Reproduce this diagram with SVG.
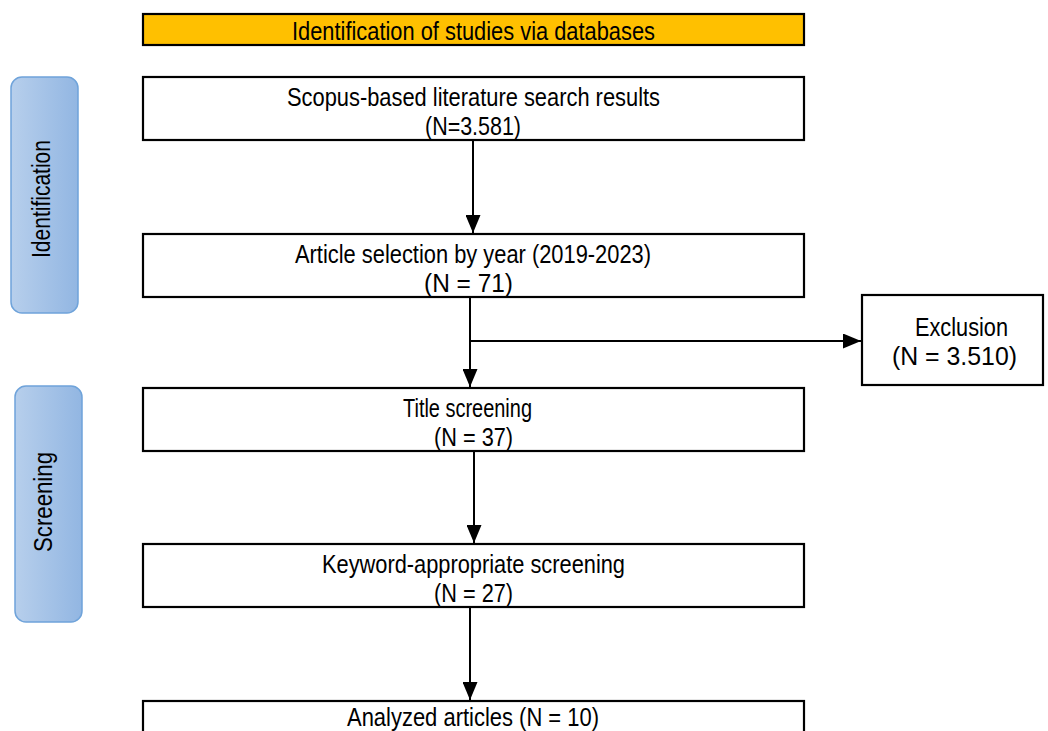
<svg xmlns="http://www.w3.org/2000/svg" width="1048" height="731" viewBox="0 0 1048 731">
<style>
.box{fill:#fff;stroke:#000;stroke-width:2.2}
.hdr{fill:#FFC000;stroke:#000;stroke-width:2.2}
.side{stroke:#6FA3DA;stroke-width:1.5;fill:url(#g)}
text{font-family:"Liberation Sans",Arial,sans-serif;font-size:26px;fill:#000;text-anchor:middle}
.con{stroke:#000;stroke-width:2;fill:none}
</style>
<defs>
<linearGradient id="g" x1="0" y1="0" x2="1" y2="0">
<stop offset="0" stop-color="#B7CFEC"/>
<stop offset="1" stop-color="#92B6E2"/>
</linearGradient>
<marker id="ah" markerWidth="18" markerHeight="15" refX="18" refY="7.5" viewBox="0 0 18 15" markerUnits="userSpaceOnUse" orient="auto">
<path d="M0,0 L18,7.5 L0,15 Z" fill="#000"/>
</marker>
</defs>
<g id="side-identification">
<rect class="side" x="11" y="77" width="67" height="236" rx="11"/>
<text transform="translate(50,199) rotate(-90)" textLength="118" lengthAdjust="spacingAndGlyphs">Identification</text>
</g>
<g id="side-screening">
<rect class="side" x="15" y="386" width="67" height="236" rx="11"/>
<text transform="translate(52,502) rotate(-90)" textLength="100" lengthAdjust="spacingAndGlyphs">Screening</text>
</g>
<g id="header">
<rect class="hdr" x="143" y="14" width="661" height="31"/>
<text x="473.5" y="40" textLength="363" lengthAdjust="spacingAndGlyphs">Identification of studies via databases</text>
</g>
<g id="n1">
<rect class="box" x="143" y="77" width="661" height="63"/>
<text x="473.5" y="106" textLength="373" lengthAdjust="spacingAndGlyphs">Scopus-based literature search results</text>
<text x="473" y="135" textLength="96" lengthAdjust="spacingAndGlyphs">(N=3.581)</text>
</g>
<g id="n2">
<rect class="box" x="143" y="234" width="661" height="63"/>
<text x="473" y="263" textLength="356" lengthAdjust="spacingAndGlyphs">Article selection by year (2019-2023)</text>
<text x="468.5" y="292" textLength="89" lengthAdjust="spacingAndGlyphs">(N = 71)</text>
</g>
<g id="exclusion">
<rect class="box" x="862" y="295" width="181" height="90"/>
<text x="961.5" y="336" textLength="93" lengthAdjust="spacingAndGlyphs">Exclusion</text>
<text x="954.5" y="365" textLength="125" lengthAdjust="spacingAndGlyphs">(N = 3.510)</text>
</g>
<g id="n3">
<rect class="box" x="143" y="388" width="661" height="63"/>
<text x="467.5" y="417" textLength="129" lengthAdjust="spacingAndGlyphs">Title screening</text>
<text x="473.5" y="446" textLength="79" lengthAdjust="spacingAndGlyphs">(N = 37)</text>
</g>
<g id="n4">
<rect class="box" x="143" y="544" width="661" height="63"/>
<text x="473.5" y="573" textLength="303" lengthAdjust="spacingAndGlyphs">Keyword-appropriate screening</text>
<text x="473.5" y="602" textLength="79" lengthAdjust="spacingAndGlyphs">(N = 27)</text>
</g>
<g id="n5">
<rect class="box" x="143" y="701" width="661" height="40"/>
<text x="473" y="726" textLength="252" lengthAdjust="spacingAndGlyphs">Analyzed articles (N = 10)</text>
</g>
<g id="connectors">
<line class="con" x1="473" y1="140" x2="473" y2="233" marker-end="url(#ah)"/>
<line class="con" x1="470" y1="297" x2="470" y2="387" marker-end="url(#ah)"/>
<line class="con" x1="470" y1="341" x2="861" y2="341" marker-end="url(#ah)"/>
<line class="con" x1="474" y1="451" x2="474" y2="543" marker-end="url(#ah)"/>
<line class="con" x1="470" y1="607" x2="470" y2="700" marker-end="url(#ah)"/>
</g>
</svg>
